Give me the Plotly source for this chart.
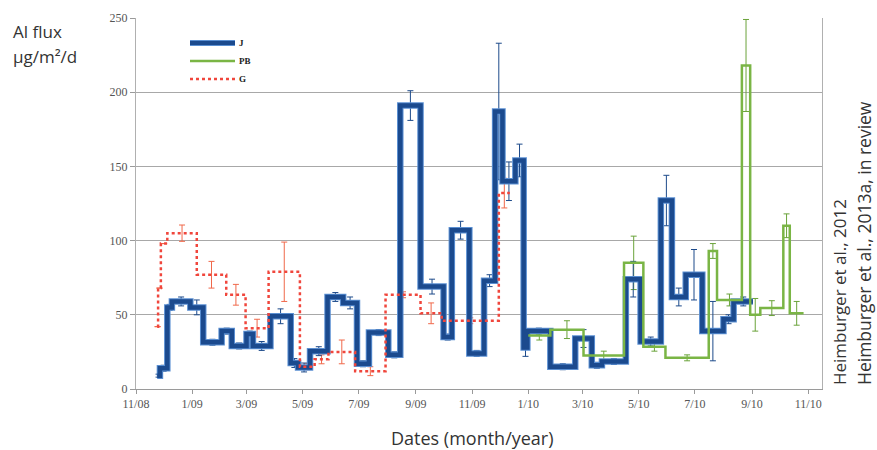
import plotly.graph_objects as go
import pandas as pd

# ---- Data -----------------------------------------------------------------
# Sampling interval boundaries (n+1) and mean Al flux values (n) with errors
J_edges = ["2008-11-24", "2008-11-27", "2008-12-05", "2008-12-10", "2008-12-30",
           "2009-01-13", "2009-02-02", "2009-02-13", "2009-03-01", "2009-03-08",
           "2009-03-27", "2009-04-18", "2009-04-26", "2009-05-09", "2009-05-28",
           "2009-06-14", "2009-06-29", "2009-07-12", "2009-08-02", "2009-08-15",
           "2009-09-06", "2009-10-01", "2009-10-10", "2009-10-29", "2009-11-14",
           "2009-11-26", "2009-12-04", "2009-12-18", "2009-12-27", "2009-12-31",
           "2010-01-25", "2010-02-21", "2010-03-11", "2010-03-22", "2010-04-17",
           "2010-05-03", "2010-05-25", "2010-06-06", "2010-06-21", "2010-07-09",
           "2010-08-01", "2010-08-12", "2010-09-02"]
J_values = [9, 14, 55, 59, 55, 31.5, 39, 29, 37, 29, 49, 17.5, 14.5, 25.5, 62,
            58, 17, 38, 23, 191, 69, 35, 107, 24, 73, 187, 140, 154, 28, 39,
            15, 34, 16, 18.5, 74, 32, 127, 62, 77, 39, 47, 59]
J_errors = [1, 2, 2, 3, 5, 2, 2, 2, 2, 3, 5, 3, 3, 3, 3, 4, 2, 2, 2, 10, 5, 2,
            6, 2, 4, 46, 13, 11, 6, 2, 2, 6, 2, 2, 12, 3, 17, 6, 17, 20, 3, 3]

PB_edges = ["2010-01-01", "2010-01-25", "2010-03-02", "2010-04-15", "2010-05-06",
            "2010-05-30", "2010-07-16", "2010-07-25", "2010-08-21", "2010-08-30",
            "2010-09-10", "2010-10-05", "2010-10-12", "2010-10-27"]
PB_values = [36, 40, 22.5, 85, 28.5, 21, 93, 60, 218, 50, 54.5, 110, 51]
PB_errors = [3, 6, 3, 18, 3, 2, 5, 4, 31, 11, 5, 8, 8]

G_edges = ["2008-11-24", "2008-11-25", "2008-11-28", "2008-12-05", "2009-01-06",
           "2009-02-07", "2009-02-28", "2009-03-25", "2009-04-28", "2009-05-14",
           "2009-05-29", "2009-06-27", "2009-07-30", "2009-09-06", "2009-09-29",
           "2009-11-30", "2009-12-12"]
G_values = [42, 68, 98, 105, 77, 63.5, 41, 79, 15, 20, 25, 12, 63.5, 51, 46, 132]
G_errors = [0, 0, 0, 5.5, 9, 7, 6, 20, 2, 3, 8, 3, 2, 7, 2, 10]

series_names = ["J", "PB", "G"]

tick_dates = ["2008-11-01", "2009-01-01", "2009-03-01", "2009-05-01", "2009-07-01",
              "2009-09-01", "2009-11-01", "2010-01-01", "2010-03-01", "2010-05-01",
              "2010-07-01", "2010-09-01", "2010-11-01"]
tick_labels = ["11/08", "1/09", "3/09", "5/09", "7/09", "9/09", "11/09",
               "1/10", "3/10", "5/10", "7/10", "9/10", "11/10"]
y_ticks = [0, 50, 100, 150, 200, 250]

J_DARK, J_HALO = "#1b4a8e", "#5a8fd2"
PB_COL = "#7ab545"
G_COL = "#f0463c"


def step_xy(edges, values):
    return edges, list(values) + [values[-1]]


def midpoints(edges):
    e = pd.to_datetime(pd.Series(edges))
    mids = e[:-1].values + (e[1:].values - e[:-1].values) / 2
    return [pd.Timestamp(m).strftime("%Y-%m-%d %H:%M") for m in mids]


fig = go.Figure()

# Error bars (drawn first, under the lines)
for edges, vals, errs, col in [(G_edges, G_values, G_errors, "#f0684a"),
                               (PB_edges, PB_values, PB_errors, "#6aa33a"),
                               (J_edges, J_values, J_errors, "#1d4a8a")]:
    fig.add_trace(go.Scatter(
        x=midpoints(edges), y=vals, mode="markers",
        marker=dict(size=1, color=col, opacity=0),
        error_y=dict(type="data", array=errs, visible=True, color=col,
                     thickness=1, width=3),
        showlegend=False, hoverinfo="skip"))

# J: thick blue step line (light halo + dark core)
jx, jy = step_xy(J_edges, J_values)
fig.add_trace(go.Scatter(x=jx, y=jy, mode="lines", line_shape="hv",
                         line=dict(color=J_HALO, width=6.5),
                         showlegend=False, hoverinfo="skip"))
fig.add_trace(go.Scatter(x=jx, y=jy, mode="lines", line_shape="hv",
                         name=series_names[0],
                         line=dict(color=J_DARK, width=4.5)))

# PB: green step line
px_, py_ = step_xy(PB_edges, PB_values)
fig.add_trace(go.Scatter(x=px_, y=py_, mode="lines", line_shape="hv",
                         name=series_names[1],
                         line=dict(color=PB_COL, width=2.5)))

# G: red dashed step line
gx, gy = step_xy(G_edges, G_values)
fig.add_trace(go.Scatter(x=gx, y=gy, mode="lines", line_shape="hv",
                         name=series_names[2],
                         line=dict(color=G_COL, width=2.5, dash="3px,3px")))

# ---- Manual legend (paper coordinates) ------------------------------------
L, W, T, H = 136, 686, 18, 371


def xp(px):
    return (px - L) / W


def yp(py):
    return (T + H - py) / H


shapes = []
leg_rows = [(43, [(J_HALO, 6, None), (J_DARK, 4, None)]),
            (61, [(PB_COL, 2.5, None)]),
            (79, [(G_COL, 2.5, "3px,3px")])]
annotations = []
for (row_y, styles), name in zip(leg_rows, series_names):
    for col, w, dash in styles:
        shapes.append(dict(type="line", xref="paper", yref="paper",
                           x0=xp(190), x1=xp(235), y0=yp(row_y), y1=yp(row_y),
                           line=dict(color=col, width=w, dash=dash)))
    annotations.append(dict(text="<b>%s</b>" % name, xref="paper", yref="paper",
                            x=xp(237), y=yp(row_y), xanchor="left",
                            yanchor="middle", showarrow=False,
                            font=dict(family="Liberation Serif", size=9,
                                      color="#222")))

annotations += [
    dict(text="Al flux", xref="paper", yref="paper",
         x=xp(11), y=yp(32), xanchor="left", yanchor="middle",
         showarrow=False, font=dict(family="Open Sans", size=17, color="#333")),
    dict(text="µg/m²/d", xref="paper", yref="paper",
         x=xp(11), y=yp(56), xanchor="left", yanchor="middle",
         showarrow=False, font=dict(family="Open Sans", size=17, color="#333")),
    dict(text="Dates (month/year)", xref="paper", yref="paper",
         x=xp(472), y=yp(438), xanchor="center", yanchor="middle",
         showarrow=False, font=dict(family="Open Sans", size=18, color="#333")),
    dict(text="Heimburger et al., 2012", xref="paper", yref="paper",
         x=xp(839), y=yp(387), xanchor="center", yanchor="bottom",
         textangle=-90, showarrow=False,
         font=dict(family="Open Sans", size=17, color="#333")),
    dict(text="Heimburger et al., 2013a, in review", xref="paper",
         yref="paper", x=xp(864), y=yp(387), xanchor="center",
         yanchor="bottom", textangle=-90, showarrow=False,
         font=dict(family="Open Sans", size=17.5, color="#333")),
]

fig.update_layout(
    width=877, height=450,
    margin=dict(l=L, r=877 - L - W, t=T, b=450 - T - H),
    paper_bgcolor="white", plot_bgcolor="white",
    showlegend=False,
    xaxis=dict(type="date", range=["2008-11-01", "2010-11-16"],
               tickvals=tick_dates, ticktext=tick_labels,
               showgrid=False, showline=True, linecolor="#9a9a9a", linewidth=1,
               ticks="outside", ticklen=4, tickcolor="#9a9a9a",
               tickfont=dict(family="Liberation Serif", size=12, color="#555"),
               zeroline=False),
    yaxis=dict(range=[0, 250], tickvals=y_ticks,
               showgrid=True, gridcolor="#a8a8a8", gridwidth=1,
               showline=True, linecolor="#b0b0b0", linewidth=1, mirror=True,
               ticks="outside", ticklen=5, tickcolor="#9a9a9a",
               tickfont=dict(family="Liberation Serif", size=12, color="#555"),
               zeroline=False),
    shapes=shapes,
    annotations=annotations,
)

fig.write_html("out.html")
